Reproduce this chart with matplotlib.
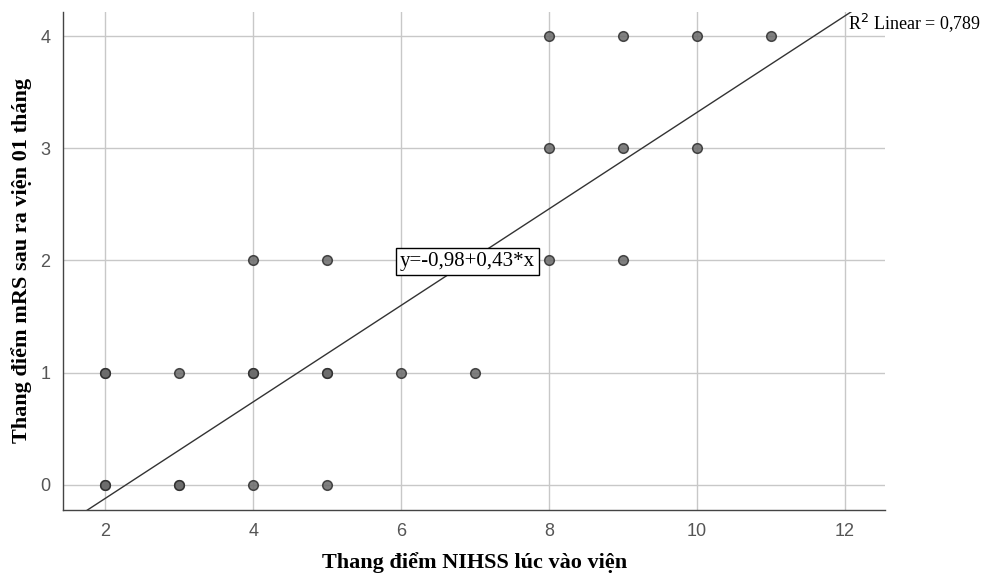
import numpy as np
import matplotlib.pyplot as plt

# NIHSS lúc vào viện (x) và mRS sau 01 tháng (y)
nihss = [2, 2, 2, 2, 3, 3, 3, 4, 4, 4, 4, 5, 5, 5, 5, 6, 7, 8, 8, 8, 9, 9, 9, 10, 10, 11]
mrs = [0, 0, 1, 1, 0, 0, 1, 0, 1, 1, 2, 0, 1, 1, 2, 1, 1, 2, 3, 4, 2, 3, 4, 3, 4, 4]
intercept, slope = -0.98, 0.43
r2 = 0.789
x_ticks = [2, 4, 6, 8, 10, 12]
y_ticks = [0, 1, 2, 3, 4]

serif = ['Liberation Serif', 'DejaVu Serif']
sans = ['Liberation Sans', 'DejaVu Sans']

fig = plt.figure(figsize=(9.86, 5.76), dpi=100)
ax = fig.add_axes([63 / 986, 1 - 510 / 576, (885 - 63) / 986, (510 - 12) / 576])

ax.set_xlim(1.43, 12.54)
ax.set_ylim(-0.223, 4.214)
ax.set_xticks(x_ticks)
ax.set_yticks(y_ticks)
ax.grid(True, color='#c8c8c8', lw=1)
ax.set_axisbelow(True)
for s in ['top', 'right']:
    ax.spines[s].set_visible(False)
for s in ['left', 'bottom']:
    ax.spines[s].set_color('#444444')
    ax.spines[s].set_linewidth(1)
ax.tick_params(length=0, pad=9, labelsize=13, labelcolor='#555555')
for lab in ax.get_xticklabels() + ax.get_yticklabels():
    lab.set_family(sans)

# đường hồi quy
xs = np.array([1.0, 13.0])
ax.plot(xs, intercept + slope * xs, color='#333333', lw=1, zorder=2)

ax.scatter(nihss, mrs, s=48, facecolor='#6a6a6a', edgecolor='#2e2e2e',
           linewidth=1.1, alpha=0.85, zorder=3)

ax.text(6.9, 1.99, 'y=-0,98+0,43*x', family=serif, fontsize=15, ha='center', va='center',
        bbox=dict(boxstyle='square,pad=0.2', fc='white', ec='black', lw=1), zorder=4)

ax.text(12.04, 4.12, 'R$^2$ Linear = ' + f'{r2:.3f}'.replace('.', ','), family=serif,
        fontsize=13, ha='left', va='center', clip_on=False)

fig.text(475 / 986, 1 - 563 / 576, 'Thang điểm NIHSS lúc vào viện', family=serif,
         fontsize=16, weight='bold', ha='center', va='center')
fig.text(22 / 986, 1 - 260 / 576, 'Thang điểm mRS sau ra viện 01 tháng', family=serif,
         fontsize=16, weight='bold', ha='center', va='center', rotation=90)

plt.savefig('out.png', dpi=100)
